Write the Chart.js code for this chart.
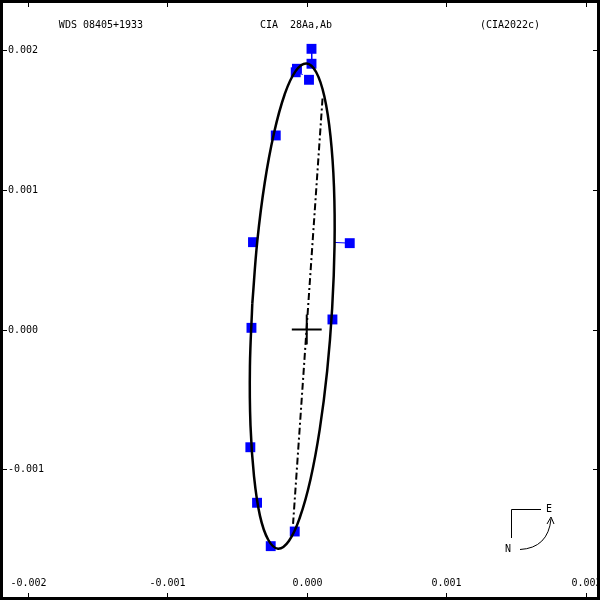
<!DOCTYPE html>
<html>
<head>
<meta charset="utf-8">
<script src="https://cdn.jsdelivr.net/npm/chart.js@4"></script>
<style>
  html, body { margin: 0; padding: 0; background: #fff; }
</style>
</head>
<body>
<canvas id="orbita" width="600" height="600"></canvas>
<script>
// Órbita desenhada, em segundos de arco
const orbitaX = [-0.000390, -0.000354, -0.000301, -0.000234, -0.000159, -0.000080, -0.000002, 0.000068,
  0.000127, 0.000170, 0.000195, 0.000199, 0.000182, 0.000146, 0.000093, 0.000027, -0.000049, -0.000128,
  -0.000206, -0.000276, -0.000335, -0.000378, -0.000403, -0.000407, -0.000390];
const orbitaY = [0.000185, 0.000635, 0.001052, 0.001410, 0.001683, 0.001852, 0.001907, 0.001844,
  0.001666, 0.001386, 0.001024, 0.000602, 0.000152, -0.000298, -0.000716, -0.001073, -0.001346, -0.001516,
  -0.001571, -0.001507, -0.001336, -0.001049, -0.000687, -0.000265, 0.000185];

// Observações (quadrados azuis)
const obsX = [0.000034, 0.000034, -0.000070, -0.000079, 0.000016, -0.000222, -0.000385, 0.000308,
  -0.000396, 0.000184, -0.000404, -0.000356, -0.000086, -0.000258];
const obsY = [0.002012, 0.001905, 0.001869, 0.001844, 0.001790, 0.001391, 0.000626, 0.000619,
  0.000012, 0.000072, -0.000844, -0.001242, -0.001448, -0.001553];

// Resíduos: observação -> posição prevista
const residuoDeX = [0.000034, 0.000308, -0.000079];
const residuoDeY = [0.002012, 0.000619, 0.001844];
const residuoAteX = [0.000036, 0.000201, -0.000029];
const residuoAteY = [0.001895, 0.000624, 0.001828];

// Linha dos nodos
const nodosX = [0.000113, -0.000098];
const nodosY = [0.001656, -0.001393];

// Cruz na estrela principal
const cruzTam = 0.000107;

// Ticks dos eixos
const ticksX = [-0.002, -0.001, 0, 0.001, 0.002];
const rotulosX = ['-0.002', '-0.001', '0.000', '0.001', '0.002'];
const ticksY = [0.002, 0.001, 0, -0.001];
const rotulosY = ['0.002', '0.001', '0.000', '-0.001'];

// Títulos
const titulos = ['WDS 08405+1933', 'CIA  28Aa,Ab', '(CIA2022c)'];

const pares = (xs, ys) => xs.map((x, i) => ({ x: x, y: ys[i] }));

const datasets = [];

// órbita
datasets.push({
  data: pares(orbitaX, orbitaY),
  showLine: true, borderColor: '#000', borderWidth: 2.5,
  pointRadius: 0, tension: 0.4, fill: false
});

// linha dos nodos (traço-ponto)
datasets.push({
  data: pares(nodosX, nodosY),
  showLine: true, borderColor: '#000', borderWidth: 2,
  borderDash: [7, 3, 2, 3], pointRadius: 0
});

// cruz
datasets.push({
  data: [{ x: -cruzTam, y: 0 }, { x: cruzTam, y: 0 }],
  showLine: true, borderColor: '#000', borderWidth: 2, pointRadius: 0
});
datasets.push({
  data: [{ x: 0, y: -cruzTam }, { x: 0, y: cruzTam }],
  showLine: true, borderColor: '#000', borderWidth: 2, pointRadius: 0
});

// resíduos
residuoDeX.forEach((x, i) => {
  datasets.push({
    data: [{ x: x, y: residuoDeY[i] }, { x: residuoAteX[i], y: residuoAteY[i] }],
    showLine: true, borderColor: '#0000ff', borderWidth: 1, pointRadius: 0
  });
});

// observações
datasets.push({
  data: pares(obsX, obsY),
  showLine: false, pointStyle: 'rect', pointRadius: 7,
  backgroundColor: '#0000ff', borderColor: '#0000ff', borderWidth: 0
});

const fonte = '10px "DejaVu Sans Mono", monospace';

// Moldura, ticks, rótulos, títulos e rosa dos ventos
const moldura = {
  id: 'moldura',
  afterDraw(chart) {
    const c = chart.ctx;
    const sx = chart.scales.x, sy = chart.scales.y;
    c.save();
    c.strokeStyle = '#000';
    c.lineWidth = 3;
    c.strokeRect(1.5, 1.5, 597, 597);

    c.lineWidth = 1;
    c.fillStyle = '#000';
    c.font = fonte;

    // ticks e rótulos do eixo X
    c.textAlign = 'center';
    c.textBaseline = 'middle';
    ticksX.forEach((v, i) => {
      const px = Math.round(sx.getPixelForValue(v)) + 0.5;
      c.beginPath();
      c.moveTo(px, 0); c.lineTo(px, 7);
      c.moveTo(px, 600); c.lineTo(px, 593);
      c.stroke();
      c.fillText(rotulosX[i], px, 583);
    });

    // ticks e rótulos do eixo Y
    c.textAlign = 'left';
    ticksY.forEach((v, i) => {
      const py = Math.round(sy.getPixelForValue(v)) + 0.5;
      c.beginPath();
      c.moveTo(0, py); c.lineTo(7, py);
      c.moveTo(600, py); c.lineTo(593, py);
      c.stroke();
      c.fillText(rotulosY[i], 8, py);
    });

    // títulos
    c.textAlign = 'center';
    c.fillText(titulos[0], 101, 25);
    c.fillText(titulos[1], 296, 25);
    c.fillText(titulos[2], 510, 25);

    // rosa dos ventos (N / E)
    c.beginPath();
    c.moveTo(511.5, 538); c.lineTo(511.5, 509.5); c.lineTo(541, 509.5);
    c.stroke();
    c.fillText('E', 549, 509);
    c.fillText('N', 508, 549);
    c.beginPath();
    c.moveTo(520, 549.5);
    c.quadraticCurveTo(548, 548, 551, 519);
    c.stroke();
    c.beginPath();
    c.moveTo(547, 524); c.lineTo(551, 517); c.lineTo(554, 524);
    c.stroke();
    c.restore();
  }
};

new Chart(document.getElementById('orbita').getContext('2d'), {
  type: 'scatter',
  data: { datasets: datasets },
  options: {
    responsive: false,
    animation: false,
    layout: { padding: 0, autoPadding: false },
    plugins: {
      legend: { display: false },
      tooltip: { enabled: false },
      title: { display: false }
    },
    scales: {
      x: { type: 'linear', min: -0.002197, max: 0.0021003, display: false },
      y: { type: 'linear', min: -0.001939, max: 0.002362, display: false }
    }
  },
  plugins: [moldura]
});
</script>
</body>
</html>
